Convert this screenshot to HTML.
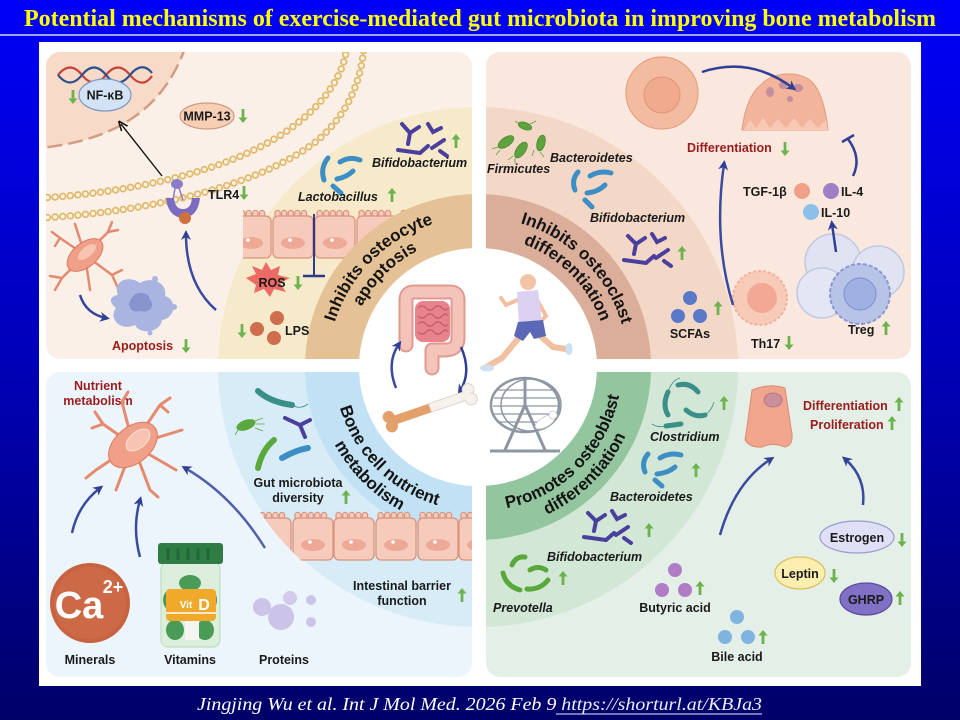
<!DOCTYPE html>
<html><head><meta charset="utf-8">
<style>
html,body{margin:0;padding:0;background:#0000b0;}
svg{display:block}
.l{font-family:"Liberation Sans",Arial,sans-serif;font-weight:bold;font-size:12.5px;fill:#1a1a1a}
.i{font-style:italic}
.r{fill:#9b1b1b}
.c{text-anchor:middle}
.b{font-family:"Liberation Sans",Arial,sans-serif;font-weight:bold;font-size:17px;fill:#141414}
</style></head>
<body>
<svg width="960" height="720" viewBox="0 0 960 720" xmlns="http://www.w3.org/2000/svg">
<defs>
<linearGradient id="bg" x1="0" y1="0" x2="0" y2="1">
<stop offset="0" stop-color="#0000f8"/><stop offset="0.5" stop-color="#0000b8"/><stop offset="1" stop-color="#000068"/>
</linearGradient>
<clipPath id="cTL"><rect x="46" y="52" width="426" height="307" rx="14"/></clipPath>
<clipPath id="cTR"><rect x="486" y="52" width="425" height="307" rx="14"/></clipPath>
<clipPath id="cBL"><rect x="46" y="372" width="426" height="305" rx="14"/></clipPath>
<clipPath id="cBR"><rect x="486" y="372" width="425" height="305" rx="14"/></clipPath>
<clipPath id="cTLcells"><rect x="243" y="180" width="240" height="100"/></clipPath>
<clipPath id="cBLcells"><circle cx="478" cy="367" r="262"/></clipPath>
<marker id="mb" viewBox="0 0 10 10" refX="6" refY="5" markerWidth="4" markerHeight="4" orient="auto"><path d="M0 0 L10 5 L0 10 L3 5Z" fill="#2f3f95"/></marker>
<marker id="mk" viewBox="0 0 10 10" refX="6" refY="5" markerWidth="7" markerHeight="7" orient="auto"><path d="M0 1 L10 5 L0 9" fill="none" stroke="#111" stroke-width="1.6"/></marker>
<g id="au"><path d="M0 -7 L4.5 -1.5 L1.4 -1.5 L1.4 7 L-1.4 7 L-1.4 -1.5 L-4.5 -1.5Z" fill="#6cb34e"/></g>
<g id="ad"><path d="M0 7 L4.5 1.5 L1.4 1.5 L1.4 -7 L-1.4 -7 L-1.4 1.5 L-4.5 1.5Z" fill="#6cb34e"/></g>
<g id="cell">
 <path d="M3 7 V3 A2.6 2.6 0 0 1 8.2 3 V7 M9.6 7 V3 A2.6 2.6 0 0 1 14.8 3 V7 M16.2 7 V3 A2.6 2.6 0 0 1 21.4 3 V7 M22.8 7 V3 A2.6 2.6 0 0 1 28 3 V7 M29.4 7 V3 A2.6 2.6 0 0 1 34.6 3 V7" fill="#f6cbbb" stroke="#d9947f" stroke-width="1.2"/>
 <rect x="1" y="6" width="40" height="42" rx="5" fill="#f6cbbb" stroke="#d9947f" stroke-width="1.3"/>
 <ellipse cx="21" cy="33" rx="12" ry="6" fill="#eda996"/>
 <circle cx="18" cy="30" r="1.8" fill="#fff"/>
</g>
<path id="pTL1" d="M328 367 A150 150 0 0 1 478 217"/>
<path id="pTL2" d="M347 367 A131 131 0 0 1 478 236"/>
<path id="pTR1" d="M478 217 A150 150 0 0 1 628 367"/>
<path id="pTR2" d="M478 236 A131 131 0 0 1 609 367"/>
<path id="pBL1" d="M334 367 A144 144 0 0 0 478 511"/>
<path id="pBL2" d="M315 367 A163 163 0 0 0 478 530"/>
<path id="pBR1" d="M478 511 A144 144 0 0 0 622 367"/>
<path id="pBR2" d="M478 530 A163 163 0 0 0 641 367"/>
</defs>

<rect width="960" height="720" fill="url(#bg)"/>
<text x="480" y="26" text-anchor="middle" font-family="'Liberation Serif',serif" font-weight="bold" font-size="24" fill="#ffff00" textLength="912" lengthAdjust="spacingAndGlyphs">Potential mechanisms of exercise-mediated gut microbiota in improving bone metabolism</text>
<line x1="0" y1="35" x2="960" y2="35" stroke="#d8d8e8" stroke-width="1.5"/>
<rect x="39" y="42" width="882" height="644" fill="#ffffff"/>

<!-- ===== TOP LEFT ===== -->
<g clip-path="url(#cTL)">
 <rect x="46" y="52" width="426" height="307" fill="#fbf0e8"/>
 <path d="M40 45 L186 45 C166 105 120 140 40 148 Z" fill="#f7dac8"/>
 <path d="M186 45 C166 105 120 140 40 148" fill="none" stroke="#d49c84" stroke-width="2.5" stroke-dasharray="15 6"/>
 <path d="M40 198 C140 192 240 168 295 125 C330 98 345 70 347 45" fill="none" stroke="#e0b96e" stroke-width="7.5" stroke-dasharray="0 7.6" stroke-linecap="round"/>
 <path d="M40 198 C140 192 240 168 295 125 C330 98 345 70 347 45" fill="none" stroke="#fbf2de" stroke-width="4" stroke-dasharray="0 7.6" stroke-linecap="round"/>
 <path d="M40 218 C150 212 262 185 318 140 C352 110 362 75 364 45" fill="none" stroke="#e0b96e" stroke-width="7.5" stroke-dasharray="0 7.6" stroke-linecap="round"/>
 <path d="M40 218 C150 212 262 185 318 140 C352 110 362 75 364 45" fill="none" stroke="#fbf2de" stroke-width="4" stroke-dasharray="0 7.6" stroke-linecap="round"/>
 <circle cx="478" cy="367" r="260" fill="#f6eaca"/>
 <g clip-path="url(#cTLcells)">
  <use href="#cell" x="230" y="210"/><use href="#cell" x="272" y="210"/><use href="#cell" x="314" y="210"/><use href="#cell" x="356" y="210"/><use href="#cell" x="398" y="210"/>
 </g>
 <circle cx="478" cy="367" r="173" fill="#e5c296"/>
</g>
<!-- DNA -->
<path d="M58 75 C66 65 74 65 82 75 S98 85 106 75 S122 65 130 75 S146 85 152 76" fill="none" stroke="#c8423a" stroke-width="2.2"/>
<path d="M58 75 C66 85 74 85 82 75 S98 65 106 75 S122 85 130 75 S146 65 152 73" fill="none" stroke="#2c4f8f" stroke-width="2.2"/>
<ellipse cx="105" cy="95" rx="26" ry="16" fill="#d3e2f4" stroke="#7a98c4" stroke-width="1.2"/>
<text x="105" y="99.5" class="l c" font-size="12">NF-κB</text>
<use href="#ad" x="73" y="97"/>
<ellipse cx="207" cy="116" rx="27" ry="13" fill="#f6cfb4" stroke="#d09a80" stroke-width="1.2"/>
<text x="207" y="120.5" class="l c" font-size="12">MMP-13</text>
<use href="#ad" x="243" y="116"/>
<line x1="162" y1="176" x2="121" y2="124" stroke="#111" stroke-width="1.4" marker-end="url(#mk)"/>
<!-- TLR4 -->
<ellipse cx="177" cy="184" rx="6" ry="5" fill="#8b7cc8"/>
<path d="M175 188 L173 200 M179 188 L183 200" stroke="#8b7cc8" stroke-width="1.5"/>
<path d="M166 198 Q168 217 183 218 Q198 217 200 198 L192 198 Q191 209 183 209 Q175 209 174 198Z" fill="#7c6bc0"/>
<circle cx="185" cy="218" r="6" fill="#d0703c"/>
<text x="208" y="199" class="l">TLR4</text>
<use href="#ad" x="244" y="193"/>
<!-- osteocyte -->
<g stroke="#e48a6f" stroke-width="2.5" fill="none" stroke-linecap="round">
<path d="M85 255 L60 238 L52 232 M60 238 L55 246 M85 255 L108 232 L112 222 M108 232 L118 230 M85 255 L62 278 L55 290 M62 278 L50 276 M85 255 L112 275 L118 288 M112 275 L122 270 M85 255 L90 290 M85 255 L75 224"/>
</g>
<ellipse cx="85" cy="255" rx="21" ry="12" transform="rotate(-40 85 255)" fill="#f0a088" stroke="#dc7a60"/>
<ellipse cx="87" cy="252" rx="11" ry="5" transform="rotate(-40 87 252)" fill="#f6c4b0"/>
<!-- apoptosis -->
<path d="M118 295 C112 280 130 275 140 283 C150 276 168 282 165 296 C178 300 175 318 162 320 C160 333 140 335 135 325 C120 332 108 318 116 308 C108 302 110 296 118 295Z" fill="#aab4e0"/>
<path d="M132 298 C136 290 150 292 150 300 C156 306 148 314 140 311 C130 314 126 304 132 298Z" fill="#8892cc"/>
<circle cx="155" cy="279" r="3" fill="#aab4e0"/><circle cx="174" cy="307" r="3" fill="#aab4e0"/><circle cx="150" cy="333" r="2.5" fill="#aab4e0"/>
<path d="M80 295 Q86 314 106 318" fill="none" stroke="#34449a" stroke-width="2.5" marker-end="url(#mb)"/>
<text x="112" y="350" class="l r" font-size="13">Apoptosis</text>
<use href="#ad" x="186" y="346"/>
<path d="M216 310 Q186 284 186 234" fill="none" stroke="#3a4a9e" stroke-width="2.5" marker-end="url(#mb)"/>
<!-- ring items TL -->
<line x1="314" y1="214" x2="314" y2="276" stroke="#2b3b8c" stroke-width="2"/>
<line x1="303" y1="276" x2="325" y2="276" stroke="#2b3b8c" stroke-width="2.5"/>
<path d="M246 278 L256 274 L252 266 L262 270 L266 262 L271 270 L280 266 L278 275 L290 278 L280 283 L286 292 L274 289 L270 297 L264 289 L254 293 L256 285Z" fill="#ee6a64"/>
<text x="272" y="287" class="l c" font-size="12">ROS</text>
<use href="#ad" x="298" y="283"/>
<circle cx="257" cy="329" r="7" fill="#cf6d4c"/><circle cx="277" cy="318" r="7" fill="#cf6d4c"/><circle cx="274" cy="338" r="7" fill="#cf6d4c"/>
<text x="285" y="335" class="l" font-size="12">LPS</text>
<use href="#ad" x="242" y="331"/>
<g stroke="#3c8ec4" stroke-width="5" stroke-linecap="round" fill="none">
<path d="M324 180 Q320 168 328 158"/><path d="M340 162 Q350 156 360 160"/><path d="M337 179 Q347 177 353 171"/><path d="M333 186 L341 193"/>
</g>
<text x="298" y="201" class="l i">Lactobacillus</text>
<use href="#au" x="392" y="195"/>
<g stroke="#4b3f9e" stroke-width="4" stroke-linecap="round" fill="none">
<path d="M402 124 L410 133 L419 127 M410 133 L408 144"/><path d="M428 124 L433 132 L441 128"/><path d="M398 150 L420 153 L428 146"/><path d="M432 148 L444 140 M440 151 L447 156"/>
</g>
<text x="372" y="167" class="l i">Bifidobacterium</text>
<use href="#au" x="456" y="141"/>

<!-- ===== TOP RIGHT ===== -->
<g clip-path="url(#cTR)">
 <rect x="486" y="52" width="425" height="307" fill="#fae8df"/>
 <circle cx="478" cy="367" r="260" fill="#f3d7c7"/>
 <circle cx="478" cy="367" r="173" fill="#dbae9a"/>
</g>
<!-- Firmicutes bugs -->
<g fill="#5ea33e" stroke="#4a8a2e" stroke-width="0.8">
<ellipse cx="506" cy="142" rx="9" ry="4.5" transform="rotate(-35 506 142)"/>
<ellipse cx="525" cy="126" rx="7" ry="3.5" transform="rotate(20 525 126)"/>
<ellipse cx="521" cy="150" rx="9" ry="4.5" transform="rotate(-55 521 150)"/>
<ellipse cx="541" cy="143" rx="8" ry="4" transform="rotate(-75 541 143)"/>
</g>
<g stroke="#5ea33e" stroke-width="0.8" fill="none">
<path d="M498 147 l-6 2 M500 150 l-4 5 M513 156 l-5 4 M515 158 l0 6 M534 150 l-2 6 M540 152 l4 5 M530 124 l6 -3 M520 124 l-5 -3"/>
</g>
<text x="487" y="173" class="l i">Firmicutes</text>
<text x="550" y="162" class="l i">Bacteroidetes</text>
<g stroke="#3c8ec4" stroke-width="5" stroke-linecap="round" fill="none">
<path d="M575 190 Q571 180 578 172"/><path d="M590 176 Q600 170 611 173"/><path d="M587 193 Q598 192 605 185"/><path d="M585 200 L592 207"/>
</g>
<text x="590" y="222" class="l i">Bifidobacterium</text>
<g stroke="#4b3f9e" stroke-width="4" stroke-linecap="round" fill="none">
<path d="M628 236 L636 244 L645 238 M636 244 L634 254"/><path d="M652 234 L657 242 L665 238"/><path d="M624 260 L646 263 L654 256"/><path d="M656 258 L668 250 M664 261 L671 266"/>
</g>
<use href="#au" x="682" y="253"/>
<circle cx="690" cy="298" r="7" fill="#5a78c8"/><circle cx="678" cy="316" r="7" fill="#5a78c8"/><circle cx="700" cy="316" r="7" fill="#5a78c8"/>
<text x="690" y="338" class="l c">SCFAs</text>
<use href="#au" x="718" y="308"/>
<!-- Th17 -->
<circle cx="760" cy="298" r="27" fill="#f7cbb8" stroke="#f0b29c" stroke-width="2" stroke-dasharray="3 2"/>
<circle cx="762" cy="298" r="15" fill="#f2a894"/>
<text x="751" y="348" class="l">Th17</text>
<use href="#ad" x="789" y="343"/>
<!-- Treg -->
<circle cx="833" cy="262" r="28" fill="#e0e3f2" stroke="#c3c8e2" stroke-width="1.5"/>
<circle cx="878" cy="272" r="26" fill="#e0e3f2" stroke="#c3c8e2" stroke-width="1.5"/>
<circle cx="822" cy="293" r="25" fill="#e3e6f3" stroke="#c3c8e2" stroke-width="1.5"/>
<circle cx="860" cy="294" r="30" fill="#b8c3e8" stroke="#8a99d0" stroke-width="2" stroke-dasharray="4 2"/>
<circle cx="860" cy="294" r="16" fill="#9fb0e2" stroke="#7d8fcf"/>
<text x="848" y="334" class="l">Treg</text>
<use href="#au" x="886" y="328"/>
<!-- big cell & osteoclast -->
<circle cx="662" cy="93" r="36" fill="#f3bb9f" stroke="#e8a283" stroke-width="1.2"/>
<circle cx="662" cy="95" r="18" fill="#f0ab8e" stroke="#df9479"/>
<path d="M742 130 C744 112 750 92 762 84 C772 72 800 70 812 82 C822 92 826 112 828 130 Z" fill="#f2b59b" stroke="#e49a7e"/>
<path d="M744 130 L750 120 L756 128 L763 118 L770 128 L778 119 L786 128 L794 118 L802 128 L810 119 L818 128 L826 120 L828 130Z" fill="#f7c9b4"/>
<ellipse cx="770" cy="92" rx="4" ry="5" fill="#c58d9e"/><ellipse cx="783" cy="85" rx="4" ry="4" fill="#c58d9e"/><ellipse cx="798" cy="88" rx="5" ry="4" fill="#c58d9e"/><circle cx="790" cy="99" r="3" fill="#c58d9e"/>
<path d="M702 72 Q750 56 793 88" fill="none" stroke="#2f3f95" stroke-width="2.5" marker-end="url(#mb)"/>
<text x="687" y="152" class="l r" font-size="13">Differentiation</text>
<use href="#ad" x="785" y="149"/>
<path d="M733 305 Q713 240 724 164" fill="none" stroke="#3a4a9e" stroke-width="2.5" marker-end="url(#mb)"/>
<text x="743" y="196" class="l">TGF-1β</text>
<circle cx="802" cy="191" r="8" fill="#f0a088"/>
<circle cx="831" cy="191" r="8" fill="#9d7fc4"/>
<text x="841" y="196" class="l">IL-4</text>
<circle cx="811" cy="212" r="8" fill="#8cc0ea"/>
<text x="821" y="217" class="l">IL-10</text>
<path d="M853 176 Q862 158 848 139" fill="none" stroke="#2f3f95" stroke-width="2.5"/>
<line x1="842" y1="142" x2="854" y2="135" stroke="#2f3f95" stroke-width="2.5"/>
<path d="M836 252 L832 224" fill="none" stroke="#2f3f95" stroke-width="2.5" marker-end="url(#mb)"/>

<!-- ===== BOTTOM LEFT ===== -->
<g clip-path="url(#cBL)">
 <rect x="46" y="372" width="426" height="305" fill="#ecf5fc"/>
 <circle cx="478" cy="367" r="260" fill="#d8ecf8"/>
 <circle cx="478" cy="367" r="173" fill="#c0e2f4"/>
 <g clip-path="url(#cBLcells)">
  <use href="#cell" x="250" y="512"/><use href="#cell" x="292" y="512"/><use href="#cell" x="333" y="512"/><use href="#cell" x="375" y="512"/><use href="#cell" x="417" y="512"/><use href="#cell" x="458" y="512"/>
 </g>
</g>
<text x="98" y="390" class="l r c">Nutrient</text>
<text x="98" y="405" class="l r c">metabolism</text>
<g stroke="#e58a6e" stroke-width="3" fill="none" stroke-linecap="round">
<path d="M133 445 L103 424 L95 412 M103 424 L92 428 M133 445 L96 470 L86 478 M133 445 L122 402 L128 392 M133 445 L160 405 L170 398 M160 405 L168 412 M133 445 L182 430 M133 445 L176 470 M133 445 L150 490 L158 497 M133 445 L116 490"/>
</g>
<ellipse cx="133" cy="445" rx="28" ry="18" transform="rotate(-40 133 445)" fill="#f0a088" stroke="#dc7a60"/>
<ellipse cx="138" cy="440" rx="14" ry="8" transform="rotate(-40 138 440)" fill="#f6c4b0" stroke="#fbe0d4"/>
<path d="M72 533 Q78 505 100 488" fill="none" stroke="#3a4a9e" stroke-width="2.5" marker-end="url(#mb)"/>
<path d="M140 557 Q132 528 140 500" fill="none" stroke="#3a4a9e" stroke-width="2.5" marker-end="url(#mb)"/>
<path d="M265 548 Q232 495 185 468" fill="none" stroke="#5160a8" stroke-width="2.5" marker-end="url(#mb)"/>
<circle cx="90" cy="603" r="40" fill="#c8623f"/>
<circle cx="90" cy="603" r="36" fill="#cc6a48"/>
<text x="79" y="618" text-anchor="middle" font-family="'Liberation Sans',Arial,sans-serif" font-weight="bold" font-size="38" fill="#fff">Ca</text>
<text x="113" y="593" text-anchor="middle" font-family="'Liberation Sans',Arial,sans-serif" font-weight="bold" font-size="18" fill="#fff">2+</text>
<rect x="161" y="562" width="59" height="85" rx="7" fill="#dcefdc" stroke="#b8d8b8"/>
<ellipse cx="172" cy="600" rx="9" ry="11" fill="#4a9a58"/><ellipse cx="208" cy="600" rx="9" ry="11" fill="#4a9a58"/><ellipse cx="190" cy="583" rx="11" ry="8" fill="#4a9a58"/>
<ellipse cx="175" cy="630" rx="9" ry="10" fill="#4a9a58"/><ellipse cx="205" cy="630" rx="9" ry="10" fill="#4a9a58"/><rect x="185" y="620" width="14" height="20" fill="#f4f4f0"/>
<rect x="166" y="589" width="50" height="32" rx="4" fill="#f0a92a"/>
<line x1="166" y1="613" x2="216" y2="613" stroke="#fff" stroke-width="1.5"/>
<text x="186" y="608" text-anchor="middle" font-family="'Liberation Sans',Arial,sans-serif" font-weight="bold" font-size="10" fill="#fff">Vit</text>
<text x="204" y="610" text-anchor="middle" font-family="'Liberation Sans',Arial,sans-serif" font-weight="bold" font-size="16" fill="#fff">D</text>
<rect x="158" y="543" width="65" height="21" rx="3" fill="#2f7d45"/>
<path d="M168 548 V560 M178 548 V560 M188 548 V560 M198 548 V560 M208 548 V560" stroke="#256639" stroke-width="3"/>
<circle cx="281" cy="617" r="13" fill="#cbc3e8"/><circle cx="262" cy="607" r="9" fill="#cbc3e8"/><circle cx="290" cy="598" r="7" fill="#d2cbeb"/><circle cx="311" cy="600" r="5" fill="#cbc3e8"/><circle cx="311" cy="622" r="5" fill="#cbc3e8"/>
<text x="90" y="664" class="l c">Minerals</text>
<text x="190" y="664" class="l c">Vitamins</text>
<text x="284" y="664" class="l c">Proteins</text>
<path d="M258 391 Q270 402 292 405" fill="none" stroke="#3a9088" stroke-width="6" stroke-linecap="round"/>
<path d="M292 405 Q300 410 308 404" fill="none" stroke="#3a9088" stroke-width="0.8"/>
<ellipse cx="246" cy="425" rx="10" ry="5" transform="rotate(-20 246 425)" fill="#5aa83c"/>
<path d="M255 421 l8 -3 M256 424 l9 0 M255 428 l8 3 M238 430 l-3 5" stroke="#5aa83c" stroke-width="0.8"/>
<path d="M285 418 L300 425 L310 420 M300 425 L305 437" fill="none" stroke="#4b3f9e" stroke-width="4" stroke-linecap="round"/>
<path d="M258 468 Q262 450 274 440" fill="none" stroke="#5aa83c" stroke-width="6" stroke-linecap="round"/>
<path d="M282 458 Q296 450 308 448" fill="none" stroke="#3c8ec4" stroke-width="6" stroke-linecap="round"/>
<text x="298" y="487" class="l c">Gut microbiota</text>
<text x="298" y="502" class="l c">diversity</text>
<use href="#au" x="346" y="497"/>
<text x="402" y="590" class="l c">Intestinal barrier</text>
<text x="402" y="605" class="l c">function</text>
<use href="#au" x="462" y="595"/>

<!-- ===== BOTTOM RIGHT ===== -->
<g clip-path="url(#cBR)">
 <rect x="486" y="372" width="425" height="305" fill="#e3efe7"/>
 <circle cx="478" cy="367" r="260" fill="#d2e7d5"/>
 <circle cx="478" cy="367" r="173" fill="#93c69e"/>
</g>
<g stroke="#3a9088" stroke-width="5" stroke-linecap="round" fill="none">
<path d="M668 392 Q662 405 668 415"/><path d="M678 385 Q690 382 698 392"/><path d="M686 410 Q695 418 705 415"/><path d="M666 426 L681 424"/>
</g>
<path d="M668 392 Q672 380 680 378 M705 415 Q712 410 714 402 M666 426 Q658 428 652 424" fill="none" stroke="#3a9088" stroke-width="0.8"/>
<text x="650" y="441" class="l i">Clostridium</text>
<use href="#au" x="724" y="403"/>
<g stroke="#3c8ec4" stroke-width="5" stroke-linecap="round" fill="none">
<path d="M645 472 Q641 462 648 454"/><path d="M660 458 Q670 452 681 455"/><path d="M657 474 Q668 473 675 467"/><path d="M655 480 L662 486"/>
</g>
<text x="610" y="501" class="l i">Bacteroidetes</text>
<use href="#au" x="696" y="470"/>
<g stroke="#4b3f9e" stroke-width="4" stroke-linecap="round" fill="none">
<path d="M588 513 L596 521 L605 515 M596 521 L594 531"/><path d="M612 511 L617 519 L625 515"/><path d="M584 537 L606 540 L614 533"/><path d="M616 535 L628 527 M624 538 L631 543"/>
</g>
<text x="547" y="561" class="l i">Bifidobacterium</text>
<use href="#au" x="649" y="530"/>
<g stroke="#5aa83c" stroke-width="5" stroke-linecap="round" fill="none">
<path d="M503 573 Q506 586 520 590"/><path d="M512 565 Q516 556 525 557"/><path d="M530 570 Q538 565 546 570"/><path d="M527 589 Q540 590 548 580"/>
</g>
<text x="493" y="612" class="l i">Prevotella</text>
<use href="#au" x="563" y="578"/>
<circle cx="675" cy="570" r="7" fill="#b07cc6"/><circle cx="662" cy="590" r="7" fill="#b07cc6"/><circle cx="685" cy="590" r="7" fill="#b07cc6"/>
<text x="675" y="612" class="l c">Butyric acid</text>
<use href="#au" x="700" y="588"/>
<circle cx="737" cy="617" r="7" fill="#7fb4e0"/><circle cx="725" cy="637" r="7" fill="#7fb4e0"/><circle cx="748" cy="637" r="7" fill="#7fb4e0"/>
<text x="737" y="661" class="l c">Bile acid</text>
<use href="#au" x="763" y="637"/>
<path d="M752 390 Q768 383 785 388 L791 428 Q795 445 785 447 Q772 442 762 447 Q750 448 745 440 L748 420Z" fill="#f0a58c" stroke="#df8a70"/>
<ellipse cx="773" cy="400" rx="9" ry="7" fill="#c9909a" stroke="#b57a88"/>
<text x="803" y="410" class="l r">Differentiation</text>
<use href="#au" x="899" y="404"/>
<text x="810" y="429" class="l r">Proliferation</text>
<use href="#au" x="892" y="423"/>
<path d="M720 535 Q735 482 771 459" fill="none" stroke="#3a4a9e" stroke-width="2.5" marker-end="url(#mb)"/>
<path d="M863 505 Q866 477 845 459" fill="none" stroke="#3a4a9e" stroke-width="2.5" marker-end="url(#mb)"/>
<ellipse cx="857" cy="537" rx="37" ry="16" fill="#dfe0f5" stroke="#9a9cd0" stroke-width="1.2"/>
<text x="857" y="542" class="l c" font-size="13.5">Estrogen</text>
<use href="#ad" x="902" y="540"/>
<ellipse cx="800" cy="573" rx="25" ry="16" fill="#fbeeae" stroke="#dcc060" stroke-width="1.2"/>
<text x="800" y="578" class="l c" font-size="13.5">Leptin</text>
<use href="#ad" x="834" y="576"/>
<ellipse cx="866" cy="599" rx="26" ry="16" fill="#8070c6" stroke="#5a4aa0" stroke-width="1.2"/>
<text x="866" y="604" class="l c" font-size="13.5">GHRP</text>
<use href="#au" x="900" y="598"/>

<!-- ===== CENTER ===== -->
<circle cx="478" cy="367" r="119" fill="#ffffff"/>
<text class="b"><textPath href="#pTL1" startOffset="50%" text-anchor="middle">Inhibits osteocyte</textPath></text>
<text class="b"><textPath href="#pTL2" startOffset="50%" text-anchor="middle">apoptosis</textPath></text>
<text class="b"><textPath href="#pTR1" startOffset="50%" text-anchor="middle">Inhibits osteoclast</textPath></text>
<text class="b"><textPath href="#pTR2" startOffset="50%" text-anchor="middle">differentiation</textPath></text>
<text class="b"><textPath href="#pBL1" startOffset="50%" text-anchor="middle">Bone cell nutrient</textPath></text>
<text class="b"><textPath href="#pBL2" startOffset="50%" text-anchor="middle">metabolism</textPath></text>
<text class="b"><textPath href="#pBR1" startOffset="50%" text-anchor="middle">Promotes osteoblast</textPath></text>
<text class="b"><textPath href="#pBR2" startOffset="50%" text-anchor="middle">differentiation</textPath></text>
<!-- intestine -->
<path d="M406 345 L406 300 Q406 292 414 292 L450 292 Q458 292 458 300 L458 338 Q458 350 445 350 L432 350 L432 368" fill="none" stroke="#e09a90" stroke-width="15" stroke-linecap="round" stroke-linejoin="round"/>
<path d="M406 345 L406 300 Q406 292 414 292 L450 292 Q458 292 458 300 L458 338 Q458 350 445 350 L432 350 L432 368" fill="none" stroke="#f4c3ba" stroke-width="11" stroke-linecap="round" stroke-linejoin="round"/>
<rect x="415" y="301" width="35" height="41" rx="8" fill="#e9838b"/>
<path d="M418 308 q4 -4 8 0 t8 0 t8 0 t6 0 M418 316 q4 4 8 0 t8 0 t8 0 t6 0 M418 324 q4 -4 8 0 t8 0 t8 0 t6 0 M418 332 q4 4 8 0 t8 0 t8 0 t6 0" fill="none" stroke="#c9606a" stroke-width="1.5"/>
<path d="M461 347 Q472 372 460 391" fill="none" stroke="#2f3f95" stroke-width="2.5" marker-end="url(#mb)"/>
<path d="M396 388 Q386 363 399 344" fill="none" stroke="#3a4a9e" stroke-width="2.5" marker-end="url(#mb)"/>
<!-- bone -->
<g transform="translate(430 408) rotate(-19)">
 <rect x="-40" y="-4.5" width="40" height="9" fill="#e3a06a"/>
 <rect x="0" y="-4.5" width="40" height="9" fill="#f6f1ea" stroke="#d7cfc5" stroke-width="0.8"/>
 <circle cx="-42" cy="-5" r="6" fill="#e3a06a"/><circle cx="-42" cy="5" r="6" fill="#e3a06a"/>
 <circle cx="42" cy="-5" r="6" fill="#f6f1ea" stroke="#d7cfc5" stroke-width="0.8"/><circle cx="42" cy="5" r="6" fill="#f6f1ea" stroke="#d7cfc5" stroke-width="0.8"/>
 <rect x="36" y="-4" width="6" height="8" fill="#f6f1ea"/>
</g>
<!-- runner -->
<g stroke-linecap="round" fill="none">
 <path d="M522 334 L502 358 L488 366" stroke="#f0c0a0" stroke-width="6"/>
 <path d="M537 333 L553 347 L566 349" stroke="#f0c0a0" stroke-width="6"/>
 <path d="M522 298 L506 305 L501 298" stroke="#f0c0a0" stroke-width="4"/>
 <path d="M536 298 L546 316 L540 322" stroke="#f0c0a0" stroke-width="4"/>
</g>
<ellipse cx="487" cy="368" rx="7" ry="3.5" fill="#cde0f2"/>
<ellipse cx="569" cy="349" rx="3.5" ry="6" fill="#cde0f2"/>
<circle cx="528" cy="282" r="8" fill="#f2c4a5"/>
<path d="M517 292 L538 290 L542 323 L519 325Z" fill="#dcd0f2"/>
<path d="M518 322 L543 320 L546 336 L534 339 L530 332 L523 341 L514 336Z" fill="#5b68b5"/>
<!-- wheel -->
<g stroke="#8d96a3" fill="none" stroke-width="2.5">
 <ellipse cx="525" cy="405" rx="34" ry="27"/>
 <ellipse cx="531" cy="405" rx="30" ry="26" stroke-width="1.5"/>
 <path d="M497 390 H553 M494 398 H557 M493 406 H558 M494 414 H557 M497 422 H553" stroke-width="1.3"/>
 <path d="M525 405 L505 450 M525 405 L545 450 M525 380 L525 405" stroke-width="3"/>
 <path d="M490 451 H560" stroke-width="3"/>
</g>
<ellipse cx="545" cy="422" rx="11" ry="5" transform="rotate(-30 545 422)" fill="#ffffff" stroke="#c8c8c8" stroke-width="0.8"/>
<circle cx="553" cy="415" r="4" fill="#ffffff" stroke="#c8c8c8" stroke-width="0.8"/>

<!-- footer -->
<text x="197" y="710" font-family="'Liberation Serif',serif" font-style="italic" font-size="18" fill="#ffffff" textLength="565" lengthAdjust="spacingAndGlyphs">Jingjing Wu et al. Int J Mol Med. 2026 Feb 9 <tspan fill="#ececff">https://shorturl.at/KBJa3</tspan></text>
<line x1="556" y1="714" x2="762" y2="714" stroke="#ececff" stroke-width="1"/>
</svg>
</body></html>
